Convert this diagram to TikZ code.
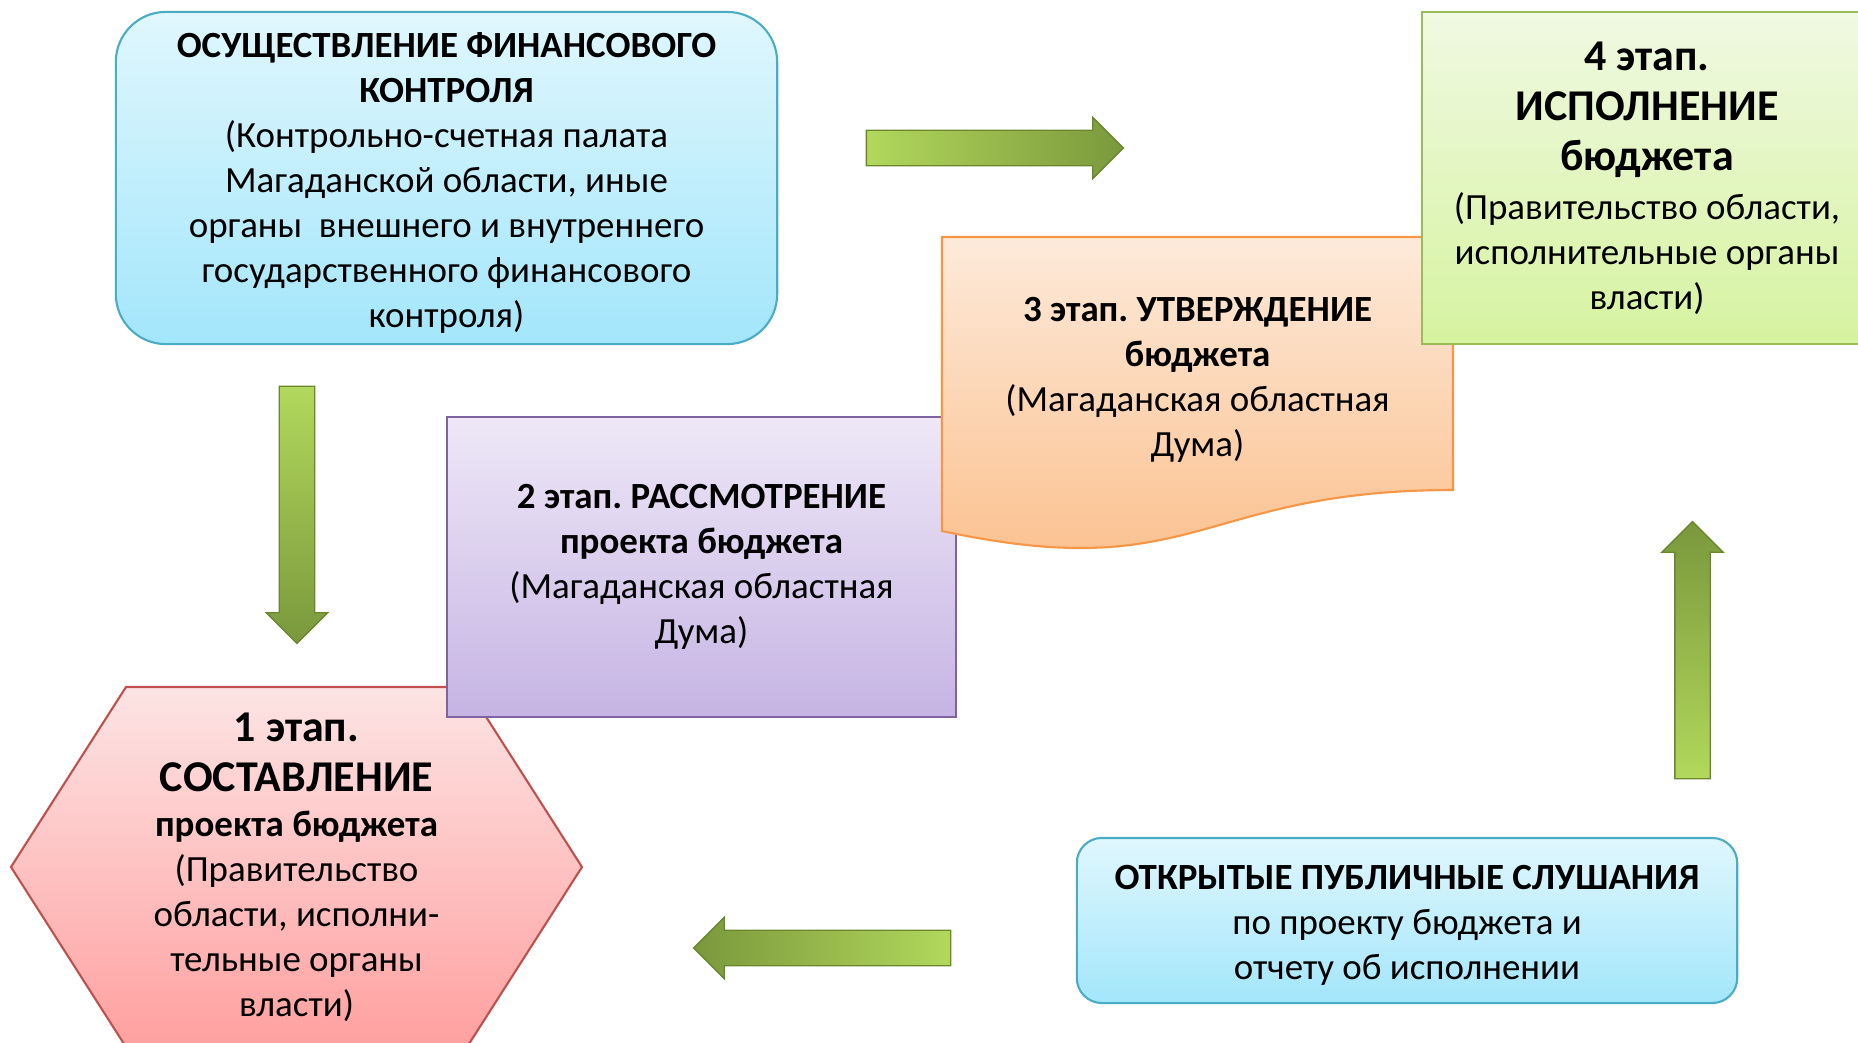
\documentclass[tikz,border=0pt]{standalone}
\usepackage{fontspec}
\setmainfont{Carlito}
\usetikzlibrary{shapes,arrows,positioning}

\definecolor{ctrlTop}{RGB}{224,247,253}
\definecolor{ctrlBot}{RGB}{163,230,251}
\definecolor{ctrlEdge}{RGB}{75,172,198}
\definecolor{execTop}{RGB}{240,249,226}
\definecolor{execBot}{RGB}{214,243,160}
\definecolor{execEdge}{RGB}{155,187,89}
\definecolor{apprTop}{RGB}{253,234,218}
\definecolor{apprBot}{RGB}{251,190,138}
\definecolor{apprEdge}{RGB}{247,150,70}
\definecolor{revTop}{RGB}{238,232,247}
\definecolor{revBot}{RGB}{198,180,228}
\definecolor{revEdge}{RGB}{128,100,162}
\definecolor{draftTop}{RGB}{253,228,228}
\definecolor{draftBot}{RGB}{255,160,160}
\definecolor{draftEdge}{RGB}{192,80,77}
\definecolor{arrLight}{RGB}{178,216,92}
\definecolor{arrDark}{RGB}{122,152,60}
\definecolor{arrEdge}{RGB}{105,135,45}

\newcommand{\stagehead}[1]{{\fontsize{12.5}{15}\selectfont\bfseries #1}}

\begin{document}
\frenchspacing
\begin{tikzpicture}[x=0.01cm,y=-0.01cm,
    every node/.style={font=\fontsize{10.5}{12.8}\selectfont, align=center},
    stage/.style={line width=0.6pt, inner sep=0pt},
    bluebox/.style={stage, draw=ctrlEdge, top color=ctrlTop, bottom color=ctrlBot},
    blockarrow/.style={single arrow, single arrow head extend=0.13cm,
        single arrow head indent=0pt, minimum width=0.6cm, minimum height=2.57cm,
        inner xsep=0pt, inner ysep=0.17cm, draw=arrEdge, line width=0.4pt}]
    \clip (0,0) rectangle (1858,1043);

    % financial control
    \node[bluebox, rounded corners=0.5cm, minimum width=6.61cm, minimum height=3.32cm]
        (ctrl) at (446.5,178) {};
    \node (ctrlText) at ([yshift=-1.5pt]ctrl.center) {\textbf{ОСУЩЕСТВЛЕНИЕ ФИНАНСОВОГО}\\\textbf{КОНТРОЛЯ}\\(Контрольно-счетная палата\\Магаданской области, иные\\органы\ \ внешнего и внутреннего\\государственного финансового\\контроля)};

    % stage 1
    \draw[stage, draw=draftEdge, top color=draftTop, bottom color=draftBot]
        (126,687) -- (467,687) -- (582,867) -- (467,1047) -- (126,1047) -- (11,867) -- cycle;
    \node (st1) at (296.5,867) {\stagehead{1 этап.}\\[1.5pt]\stagehead{СОСТАВЛЕНИЕ}\\\textbf{проекта бюджета}\\(Правительство\\области, исполни-\\тельные органы\\власти)};

    % stage 2
    \node[stage, draw=revEdge, top color=revTop, bottom color=revBot, minimum width=5.09cm, minimum height=3cm]
        (st2) at (701.5,567) {\textbf{2 этап. РАССМОТРЕНИЕ}\\\textbf{проекта бюджета}\\(Магаданская областная\\Дума)};

    % stage 3
    \draw[stage, draw=apprEdge, top color=apprTop, bottom color=apprBot]
        (942,237) -- (1453,237) -- (1453,490) .. controls (1197.5,490) and (1197.5,586) .. (942,531) -- cycle;
    \node (st3) at (1197.5,380) {\textbf{3 этап. УТВЕРЖДЕНИЕ}\\\textbf{бюджета}\\(Магаданская областная\\Дума)};

    % stage 4
    \node[stage, draw=execEdge, top color=execTop, bottom color=execBot, minimum width=4.5cm, minimum height=3.32cm]
        (st4) at (1647,178) {\stagehead{4 этап.}\\[1.5pt]\stagehead{ИСПОЛНЕНИЕ}\\[1.5pt]\stagehead{бюджета}\\[1pt](Правительство области,\\исполнительные органы\\власти)};

    % public hearings
    \node[bluebox, rounded corners=0.25cm, minimum width=6.6cm, minimum height=1.65cm]
        (hear) at (1407,920.5) {};
    \node (hearText) at ([yshift=-1.5pt]hear.center) {\textbf{ОТКРЫТЫЕ ПУБЛИЧНЫЕ СЛУШАНИЯ}\\по проекту бюджета и\\отчету об исполнении};

    % arrows (shading is set on the page, tail light, head dark)
    \node[blockarrow, left color=arrLight, right color=arrDark] (arrTop) at (986,148) {};
    \node[blockarrow, rotate=-90, top color=arrLight, bottom color=arrDark] (arrDown) at (297,506) {};
    \node[blockarrow, rotate=90, top color=arrDark, bottom color=arrLight] (arrUp) at (1692.5,659) {};
    \node[blockarrow, rotate=180, left color=arrDark, right color=arrLight] (arrLeft) at (831,948) {};
\end{tikzpicture}
\end{document}
